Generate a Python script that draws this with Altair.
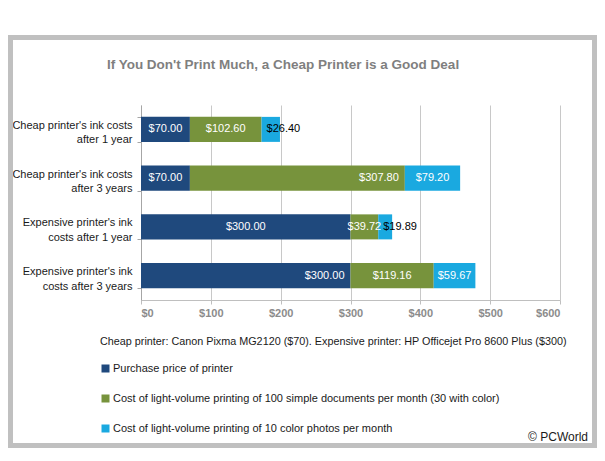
import altair as alt
import pandas as pd

# ---- data ----
categories = [
    "Cheap printer's ink costs|after 1 year",
    "Cheap printer's ink costs|after 3 years",
    "Expensive printer's ink|costs after 1 year",
    "Expensive printer's ink|costs after 3 years",
]
series = [
    "Purchase price of printer",
    "Cost of light-volume printing of 100 simple documents per month (30 with color)",
    "Cost of light-volume printing of 10 color photos per month",
]
purchase = [70.00, 70.00, 300.00, 300.00]
documents = [102.60, 307.80, 39.72, 119.16]
photos = [26.40, 79.20, 19.89, 59.67]
x_ticks = [0, 100, 200, 300, 400, 500, 600]

title_text = "If You Don't Print Much, a Cheap Printer is a Good Deal"
note_text = "Cheap printer: Canon Pixma MG2120 ($70). Expensive printer: HP Officejet Pro 8600 Plus ($300)"
credit_text = "\u00a9 PCWorld"

# ---- styles ----
colors = ["#1f497d", "#77933c", "#1aa9e0"]
label_anchor = [
    ["center", "center", "base"],
    ["center", "end", "center"],
    ["center", "center", "base"],
    ["end", "center", "center"],
]
label_color = [
    ["white", "white", "black"],
    ["white", "white", "white"],
    ["white", "white", "black"],
    ["white", "white", "white"],
]
FONT = "Liberation Sans"

rows = []
for i, cat in enumerate(categories):
    vals = [purchase[i], documents[i], photos[i]]
    start = 0.0
    for j, s in enumerate(series):
        end = start + vals[j]
        mode = label_anchor[i][j]
        lx = {"center": (start + end) / 2, "base": start, "end": end}[mode]
        rows.append({
            "category": cat, "series": s, "order": j, "value": vals[j],
            "start": start, "end": end, "lx": lx, "mode": mode,
            "label": f"${vals[j]:,.2f}", "tc": label_color[i][j],
        })
        start = end
df = pd.DataFrame(rows)

y_enc = alt.Y(
    "category:N", sort=categories, title=None,
    scale=alt.Scale(paddingInner=0.487, paddingOuter=0.2436),
    axis=alt.Axis(
        labelExpr="split(datum.label, '|')", labelFont=FONT, labelFontSize=11,
        labelColor="#1a1a1a", labelLineHeight=14.5, labelPadding=5,
        labelOffset=-4,
        tickBand="extent", tickSize=4, tickColor="#a6a6a6",
        domainColor="#a6a6a6", grid=False, labelLimit=300,
    ),
)

base = alt.Chart(df)

bars = base.mark_bar().encode(
    y=y_enc,
    x=alt.X(
        "start:Q", title=None,
        scale=alt.Scale(domain=[0, 600], nice=False),
        axis=alt.Axis(
            values=x_ticks, format="$,.0f", labelFont=FONT, labelFontSize=11,
            labelFontWeight="bold", labelColor="#8c8c8c", labelPadding=3,
            tickSize=4, tickColor="#bfbfbf", domainColor="#bfbfbf",
            gridColor="#c8c8c8", grid=True,
        ),
    ),
    x2="end:Q",
    color=alt.Color(
        "series:N", sort=series,
        scale=alt.Scale(domain=series, range=colors),
        legend=alt.Legend(
            title=None, orient="none", legendX=-41, legendY=258,
            direction="vertical", symbolType="square", symbolSize=64,
            symbolStrokeWidth=0, labelFont=FONT, labelFontSize=11,
            labelColor="#1a1a1a", labelLimit=700, rowPadding=18,
            labelOffset=2, padding=0,
        ),
    ),
)

def label_layer(mode, align, dx):
    return base.transform_filter(alt.datum.mode == mode).mark_text(
        align=align, baseline="middle", dx=dx, font=FONT, fontSize=11
    ).encode(
        y=alt.Y("category:N", sort=categories),
        x=alt.X("lx:Q"),
        text="label:N",
        fill=alt.Fill("tc:N", scale=None),
    )

labels = label_layer("center", "center", 0) + label_layer("base", "left", 5) + label_layer("end", "right", -6)

one = pd.DataFrame({"t": [0]})

frame = alt.Chart(one).mark_rect(
    fillOpacity=0, stroke="#c0c0c0", strokeWidth=5
).encode(
    x=alt.value(-130.5), x2=alt.value(453.5), y=alt.value(-67.5), y2=alt.value(340.5)
)

title = alt.Chart(pd.DataFrame({"t": [title_text]})).mark_text(
    font=FONT, fontSize=13.5, fontWeight="bold", color="#7f7f7f",
    align="center", baseline="alphabetic"
).encode(text="t:N", x=alt.value(142), y=alt.value(-36))

note = alt.Chart(pd.DataFrame({"t": [note_text]})).mark_text(
    font=FONT, fontSize=10.8, color="#1a1a1a", align="left", baseline="alphabetic"
).encode(text="t:N", x=alt.value(-41), y=alt.value(240))

credit = alt.Chart(pd.DataFrame({"t": [credit_text]})).mark_text(
    font=FONT, fontSize=12, color="#1a1a1a", align="right", baseline="alphabetic"
).encode(text="t:N", x=alt.value(447), y=alt.value(336))

chart = alt.layer(frame, bars, labels, title, note, credit).properties(
    width=419, height=195,
    padding={"left": 133, "top": 97, "right": 37, "bottom": 148},
    autosize=alt.AutoSizeParams(type="none"),
    background="white",
).configure_view(strokeWidth=0)

chart.save("out.html", embed_options={"renderer": "svg", "actions": False})
